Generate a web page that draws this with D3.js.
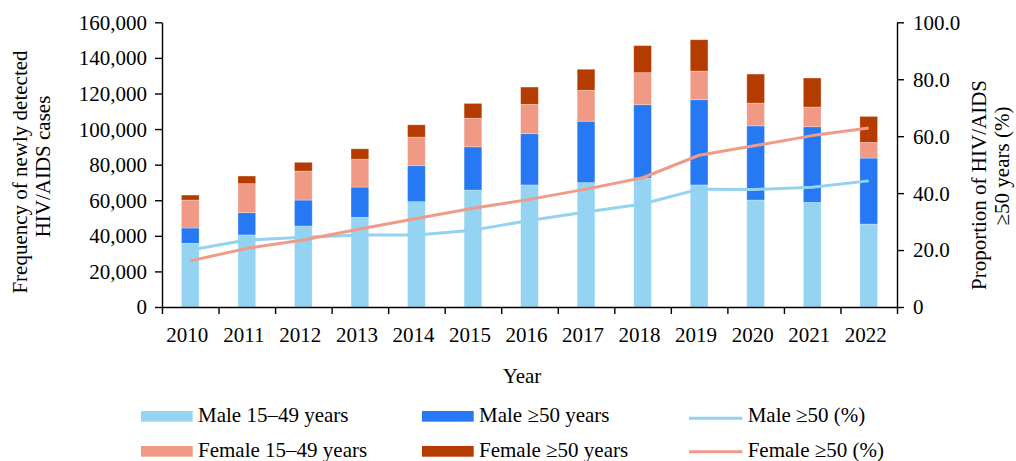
<!DOCTYPE html>
<html>
<head>
<meta charset="utf-8">
<script src="https://cdn.jsdelivr.net/npm/d3@7"></script>
<style>
  html, body { margin: 0; padding: 0; background: #fff; }
  svg { display: block; font-family: "Liberation Serif", "Times New Roman", serif; }
</style>
</head>
<body>
<svg id="chart" width="1016" height="461"></svg>
<script>
const years = ["2010","2011","2012","2013","2014","2015","2016","2017","2018","2019","2020","2021","2022"];
const male1549   = [35800, 40500, 45500, 50400, 59200, 65700, 68600, 69900, 72500, 68600, 60100, 58800, 46600];
const male50     = [ 8600, 12500, 14600, 17000, 20200, 24300, 28800, 34500, 41200, 47900, 41700, 42500, 37100];
const female1549 = [15700, 16300, 16300, 15700, 16100, 16100, 16500, 17400, 18000, 16100, 12800, 11100,  8800];
const female50   = [ 2800,  4300,  4900,  5800,  6900,  8300,  9700, 11800, 15200, 17600, 16300, 16300, 14600];
const malePct    = [20.0, 23.5, 24.5, 25.3, 25.3, 27.0, 30.4, 33.4, 36.2, 41.4, 41.3, 42.1, 44.3];
const femalePct  = [16.2, 20.6, 23.5, 27.4, 31.1, 34.7, 37.8, 41.4, 45.4, 53.3, 56.7, 60.2, 62.9];
const leftTicks  = [0, 20000, 40000, 60000, 80000, 100000, 120000, 140000, 160000];
const rightTicks = [0, 20, 40, 60, 80, 100];

const seriesKeys  = ["male1549", "male50", "female1549", "female50"];
const seriesNames = ["Male 15\u201349 years", "Male \u226550 years", "Female 15\u201349 years", "Female \u226550 years"];
const seriesColors = ["#94D3F2", "#2778F3", "#F09A86", "#B53C00"];
const lineNames  = ["Male \u226550 (%)", "Female \u226550 (%)"];
const lineColors = ["#93D2F1", "#F09A88"];

const rows = years.map((y, i) => ({
  year: y, male1549: male1549[i], male50: male50[i], female1549: female1549[i], female50: female50[i]
}));

const svg = d3.select("#chart");
const L = 162, R = 897, T = 22.3, B = 307;
const FS = 21;

const x = d3.scaleBand().domain(years).range([L, R]).paddingInner(0.687).paddingOuter(0.3435);
const yL = d3.scaleLinear().domain([0, 160000]).range([B, T]);
const yR = d3.scaleLinear().domain([0, 100]).range([B, T]);

// bars
const stacked = d3.stack().keys(seriesKeys)(rows);
svg.append("g").selectAll("g").data(stacked).join("g")
  .attr("fill", (d, i) => seriesColors[i])
  .selectAll("rect").data(d => d).join("rect")
  .attr("x", d => x(d.data.year))
  .attr("width", x.bandwidth())
  .attr("y", d => yL(d[1]))
  .attr("height", d => yL(d[0]) - yL(d[1]))
  .attr("stroke", "rgba(255,255,255,0.35)")
  .attr("stroke-width", 0.8);

// lines
const cx = y => x(y) + x.bandwidth() / 2;
[malePct, femalePct].forEach((vals, k) => {
  const line = d3.line().x((d, i) => cx(years[i])).y(d => yR(d));
  svg.append("path").datum(vals)
    .attr("d", line)
    .attr("fill", "none")
    .attr("stroke", lineColors[k])
    .attr("stroke-width", 3)
    .attr("stroke-linejoin", "round");
});

// axes
const axisStyle = g => {
  g.selectAll("path, line").attr("stroke", "#000").attr("stroke-width", 1.4);
  g.selectAll("text").attr("font-size", FS).attr("font-family", "Liberation Serif, serif").attr("fill", "#000");
};

// x axis: boundary ticks
const xb = d3.scaleLinear().domain([0, 13]).range([L, R]);
svg.append("g").attr("transform", `translate(0,${B})`)
  .call(d3.axisBottom(xb).tickValues(d3.range(0, 14)).tickFormat("").tickSize(7).tickSizeOuter(0))
  .call(axisStyle);

// x labels
svg.append("g").selectAll("text").data(years).join("text")
  .attr("x", d => cx(d) - 3)
  .attr("y", 342)
  .attr("text-anchor", "middle")
  .attr("font-size", FS)
  .text(d => d);

// left axis
svg.append("g").attr("transform", `translate(${L},0)`)
  .call(d3.axisLeft(yL).tickValues(leftTicks).tickFormat(d3.format(",")).tickSize(7).tickSizeOuter(0).tickPadding(8))
  .call(axisStyle)
  .selectAll("text").attr("dy", "0.33em");

// right axis
svg.append("g").attr("transform", `translate(${R},0)`)
  .call(d3.axisRight(yR).tickValues(rightTicks).tickFormat(d => d === 0 ? "0" : d3.format(".1f")(d)).tickSize(7).tickSizeOuter(0).tickPadding(9))
  .call(axisStyle)
  .selectAll("text").attr("dy", "0.33em");

// axis titles
const rot = (tx, ty, txt) => svg.append("text")
  .attr("transform", `translate(${tx},${ty}) rotate(-90)`)
  .attr("text-anchor", "middle")
  .attr("font-size", FS)
  .text(txt);
rot(27, 172, "Frequency of newly detected");
rot(50, 166.5, "HIV/AIDS cases");
rot(986, 185, "Proportion of HIV/AIDS");
rot(1009, 166, "\u226550 years (%)");

svg.append("text").attr("x", 522).attr("y", 383).attr("text-anchor", "middle")
  .attr("font-size", FS).text("Year");

// legend
const legendItems = [
  {type: "rect", col: 0, row: 0, i: 0},
  {type: "rect", col: 1, row: 0, i: 1},
  {type: "rect", col: 0, row: 1, i: 2},
  {type: "rect", col: 1, row: 1, i: 3}
];
const colX = [141, 422, 689];
const rowBase = [421.7, 456.7];
const lg = svg.append("g");
legendItems.forEach(it => {
  lg.append("rect")
    .attr("x", colX[it.col]).attr("y", rowBase[it.row] - 10.7)
    .attr("width", 51.7).attr("height", 10.7)
    .attr("fill", seriesColors[it.i]);
  lg.append("text")
    .attr("x", colX[it.col] + 57).attr("y", rowBase[it.row])
    .attr("font-size", FS).text(seriesNames[it.i]);
});
lineNames.forEach((nm, k) => {
  const yy = [418.3, 451.7][k];
  lg.append("line")
    .attr("x1", colX[2]).attr("x2", colX[2] + 53.4)
    .attr("y1", yy).attr("y2", yy)
    .attr("stroke", lineColors[k]).attr("stroke-width", 3);
  lg.append("text")
    .attr("x", colX[2] + 58.7).attr("y", rowBase[k])
    .attr("font-size", FS).text(nm);
});
</script>
</body>
</html>
